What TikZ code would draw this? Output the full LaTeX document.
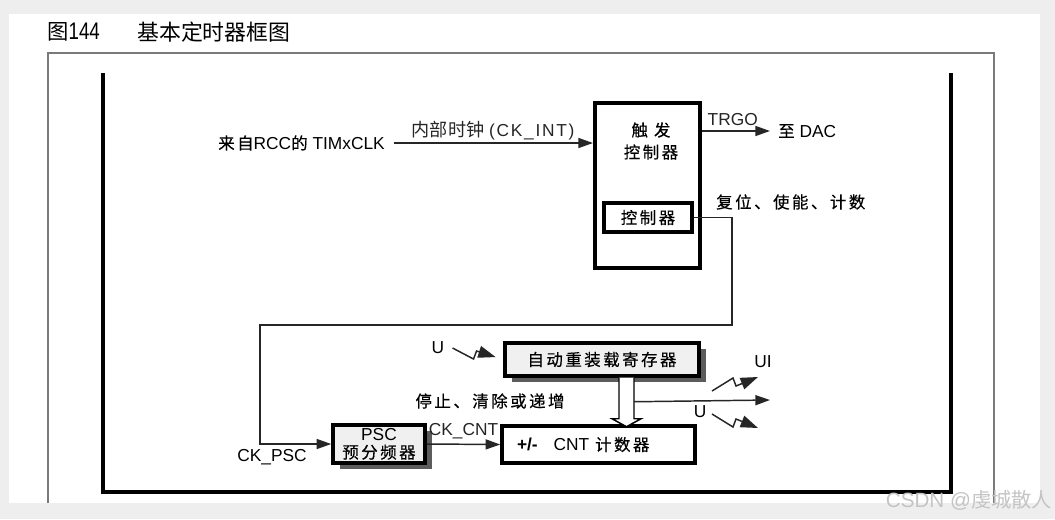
\documentclass[tikz,border=0pt]{standalone}
\usepackage{fontspec}
\setmainfont{Liberation Sans}
\newfontfamily\cjk{Noto Sans CJK SC}[Scale=0.95, LetterSpace=15, FakeBold=0.4]
\newfontfamily\cjktight{Noto Sans CJK SC}[Scale=0.8]
\newcommand{\zh}[1]{{\cjk #1}}
\usepackage{xcolor}
\usepackage{graphicx}
\usepackage{tikz}
\usetikzlibrary{calc, arrows.meta, shadows}

\definecolor{pagegray}{HTML}{EEEEEE}
\definecolor{framegray}{HTML}{7A7A7A}
\definecolor{boxgray}{HTML}{F0F0F0}
\definecolor{shadowgray}{HTML}{5C5C5C}
\definecolor{wmgray}{HTML}{C4C4C4}

\tikzset{
  lbl/.style={inner sep=0pt, font=\fontsize{13}{15}\selectfont},
  bigbox/.style={draw, line width=3pt, fill=white},
  regbox/.style={draw, line width=2.6pt, fill=white, lbl},
  shadebox/.style={regbox, fill=boxgray,
    drop shadow={shadow xshift=5.5pt, shadow yshift=-4.5pt, fill=shadowgray, opacity=1}},
  wire/.style={line width=1.1pt, black!85},
  bolt/.style={wire, -{Triangle[length=13pt,width=9pt]}},
}

\begin{document}
\begin{tikzpicture}[>={Triangle[length=11pt,width=7.5pt]}, x=0.75pt, y=-0.75pt]
    % 1. Page, frame and bracket
    \useasboundingbox (0,0) rectangle (1055,519);
    \fill[pagegray] (0,0) rectangle (1055,519);
    \fill[white] (9,14) rectangle (1040,503);
    \draw[framegray, line width=1.5pt] (48,503) -- (48,53) -- (994,53) -- (994,503);
    \draw[line width=3pt] (103,73) -- (103,492) -- (951,492) -- (951,73);

    % 2. Title
    \node[lbl, anchor=west, font=\fontsize{18}{21}\selectfont] (fignum) at (47,32) {{\cjktight\fontsize{20}{21}\selectfont 图}\scalebox{0.78}[1]{144}};
    \node[lbl, anchor=west, font=\fontsize{20.5}{21}\selectfont] (figtitle) at (137,32) {\cjktight 基本定时器框图};

    % 3. Trigger controller
    \node[bigbox, minimum width=78.75pt, minimum height=123.75pt] (trig) at (647.5,185.5) {};
    \node[lbl, align=center] (trigtxt) at (651,141) {\zh{触 发}\\[1.5pt]\zh{控制器}};
    \node[regbox, minimum width=66pt, minimum height=21.75pt] (ctrl) at (648,217.5) {\zh{控制器}};

    % 4. Clock input and TRGO output
    \node[lbl, anchor=east] (clk) at (385,143) {\zh{来自}RCC\zh{的} TIMxCLK};
    \draw[wire, ->, shorten <=6.75pt] (clk.east) -- (clk.east -| trig.west)
        node[pos=0.52, above=2pt, lbl] (ckint) {{\cjktight\fontsize{17}{15}\selectfont 内部时钟} {\addfontfeatures{LetterSpace=10}(CK\_INT)}};

    \node[lbl, anchor=west] (dac) at (778,131) {\zh{至} DAC};
    \draw[wire, ->, shorten >=6pt] (trig.east |- dac.west) -- (dac.west)
        node[pos=0, anchor=south west, xshift=3.75pt, yshift=3.75pt, lbl] (trgo) {TRGO};

    \node[lbl, anchor=west] (rst) at (716,202) {\zh{复位、使能、计数}};

    % 5. Prescaler
    \node[shadebox, minimum width=69pt, minimum height=28.5pt, align=center] (psc) at (379,444) {PSC\\[-1.5pt]\zh{预分频器}};
    \node[lbl] (ckpsc) at (272,457) {CK\_PSC};
    \coordinate (c1) at (732,325);
    \coordinate (c2) at (260,325);
    \draw[wire, ->] (ctrl.east) -| (c1) -- (c2) |- (psc.west);

    % 6. Counter
    \node[regbox, minimum width=144.75pt, minimum height=27.75pt, text width=122.25pt,
          inner xsep=11.25pt, align=left] (cnt) at (598.5,444.5) {\textbf{+/-}\hspace{12pt}CNT \zh{计数器}};
    \draw[wire, ->] (psc.east) -- (cnt.west)
        node[midway, anchor=base, yshift=6.75pt, lbl] (ckcnt) {CK\_CNT};

    % 7. Auto-reload register
    \node[shadebox, minimum width=145.5pt, minimum height=24.75pt] (arr) at (602,359.5) {\zh{自动重装载寄存器}};
    \node[lbl] (uin) at (438,348) {U};
    \draw[bolt, shorten >=6pt] (uin.east) ++(8,0) -- ++(21,11) -- ++(3,-8) -- (arr.west);

    \draw[line width=1.1pt, fill=white] ($(arr.south)+(17,0)$) -- ++(0,41) -- ++(-7,0)
        -- ++(14.5,8) -- ++(14.5,-8) -- ++(-7,0) -- ++(0,-41);
    \node[lbl] (stop) at (490,401) {\zh{停止、清除或递增}};

    % 8. Update event / interrupt outputs
    \coordinate (brn) at ($(arr.south)+(32,24)$);
    \coordinate (uout) at (770,400);
    \draw[wire, ->] (brn) -- (uout);

    \coordinate (uis) at (712,391);
    \draw[bolt] (uis) -- ++(21,-13) -- ++(3,8) -- ++(22,-9);
    \node[lbl] (uilbl) at (763,362) {UI};
    \coordinate (uos) at (712,414);
    \draw[bolt] (uos) -- ++(21,13) -- ++(3,-8) -- ++(22,9);
    \node[lbl] (uolbl) at (700,412) {U};

    % 9. Watermark
    \node[lbl, text=wmgray, font=\fontsize{15.5}{17}\selectfont] (wm) at (969,500) {CSDN @{\cjktight\fontsize{19}{17}\selectfont 虔城散人}};
\end{tikzpicture}
\end{document}
